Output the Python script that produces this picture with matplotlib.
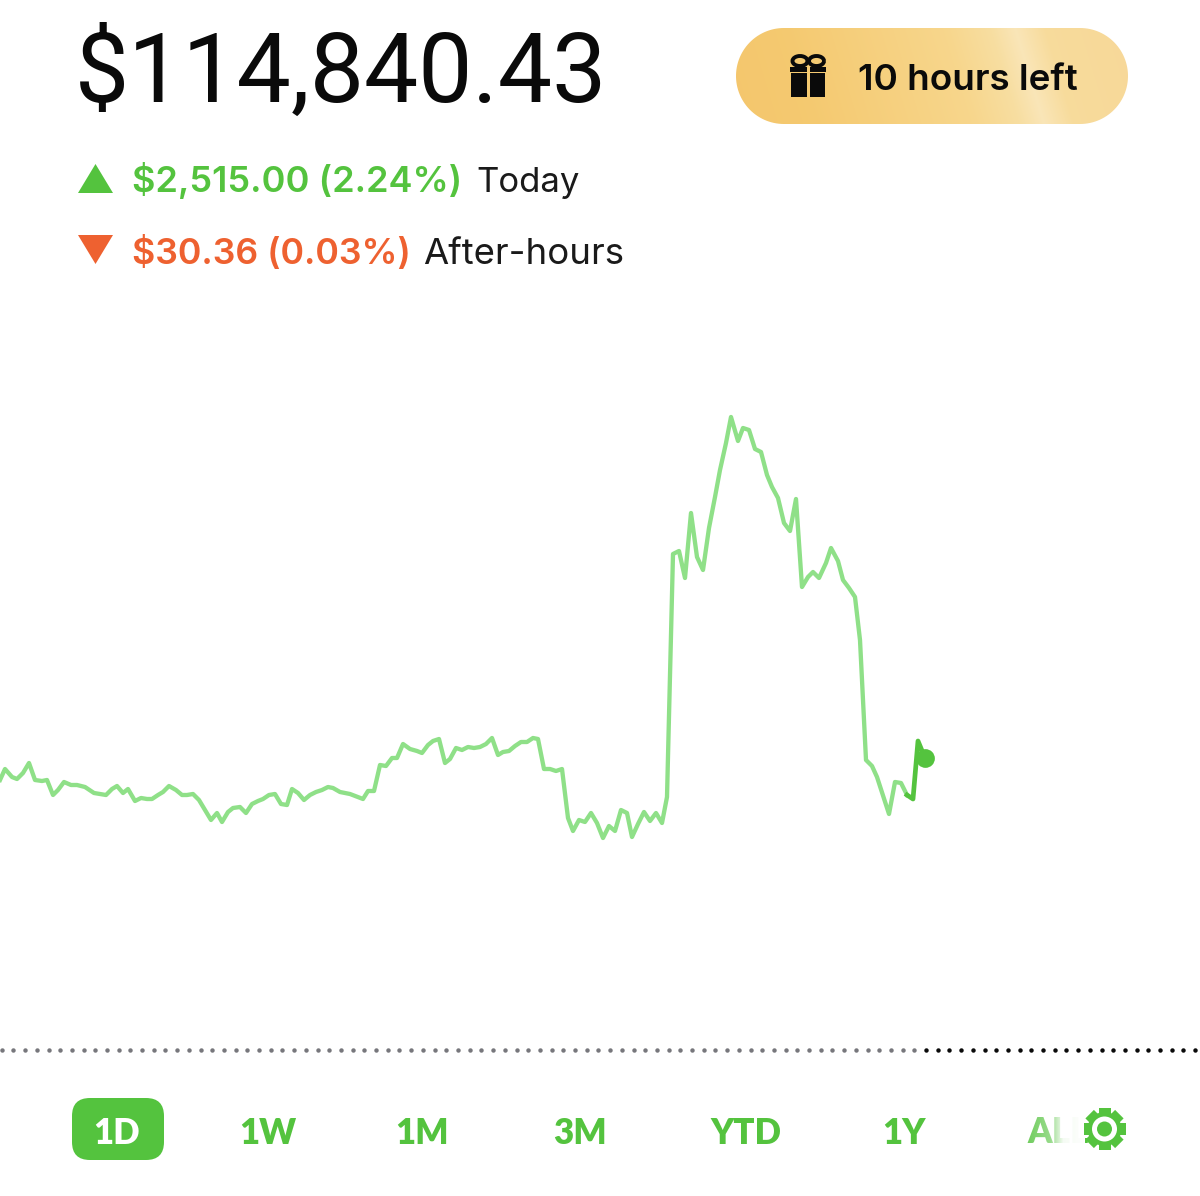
import numpy as np
import matplotlib
matplotlib.use('Agg')
import matplotlib.pyplot as plt
from matplotlib.patches import Circle, FancyBboxPatch, Polygon, Rectangle, Arc

GREEN = '#54C33E'
LIGHT = '#8FE088'
RED = '#EE6130'

# line
chart_x = [0, 5, 12, 17, 23, 29, 35, 42, 47, 53, 58, 64, 71, 77, 85, 94, 100, 106, 112, 117,
           123, 128, 135, 141, 147, 152, 158, 163, 169, 176, 182, 187, 193, 199, 211, 217, 222, 228, 233, 240,
           246, 252, 258, 263, 269, 275, 281, 287, 292, 298, 304, 310, 316, 322, 328, 333, 340, 350, 363, 368,
           374, 380, 386, 392, 397, 403, 410, 417, 422, 428, 433, 439, 445, 450, 456, 462, 468, 474, 480, 486,
           492, 498, 503, 509, 515, 521, 527, 533, 538, 544, 550, 556, 562, 568, 573, 579, 585, 591, 597, 603,
           609, 615, 621, 627, 632, 638, 644, 650, 656, 662, 667, 673, 679, 685, 691, 697, 703, 709, 715, 720,
           726, 731, 738, 743, 749, 755, 761, 767, 772, 778, 784, 790, 796, 802, 808, 813, 819, 826, 831, 838,
           843, 849, 855, 860, 866, 872, 877, 889, 895, 901, 907]
chart_y = [780, 769, 777, 779, 773, 763, 780, 781, 780, 795, 790, 782, 785, 785, 787, 793, 794, 795, 789, 786,
           793, 789, 801, 798, 799, 799, 795, 792, 786, 790, 795, 795, 794, 800, 820, 813, 822, 812, 808, 807,
           813, 804, 801, 799, 795, 794, 804, 805, 789, 793, 800, 795, 792, 790, 787, 788, 792, 794, 799, 791,
           791, 765, 766, 758, 758, 744, 749, 751, 753, 745, 741, 739, 763, 759, 748, 750, 747, 748, 747, 744,
           738, 755, 752, 751, 746, 742, 742, 738, 739, 769, 769, 771, 769, 818, 831, 820, 822, 813, 823, 838,
           826, 831, 810, 813, 837, 824, 812, 821, 813, 823, 797, 554, 551, 578, 513, 557, 570, 528, 497, 470,
           443, 417, 441, 428, 430, 449, 452, 475, 487, 498, 523, 531, 499, 587, 577, 572, 578, 563, 548, 561,
           580, 588, 597, 640, 760, 766, 777, 814, 782, 783, 795]
afterhours_x = [907, 913, 918, 925]
afterhours_y = [795, 799, 741, 758]
last_x = [925]
last_y = [758]

ranges = ['1W', '1M', '3M', 'YTD', '1Y']
range_x = [268, 422, 580, 746, 904]

fig = plt.figure(figsize=(12, 11.96), dpi=100)
ax = fig.add_axes([0, 0, 1, 1])
ax.set_xlim(0, 1200)
ax.set_ylim(1196, 0)
ax.axis('off')

# header
ax.text(75, 102, '$114,840.43', family='Roboto', fontsize=69.5, color='#0a0a0a', va='baseline')
ax.add_patch(Polygon([(78, 193), (113, 193), (95.5, 164)], color=GREEN, lw=0))
ax.add_patch(Polygon([(78, 235), (113, 235), (95.5, 264)], color=RED, lw=0))
ax.text(132.5, 192, '$2,515.00 (2.24%)', family='Inter', fontweight='semibold', fontsize=26, color=GREEN, va='baseline')
ax.text(476, 192, 'Today', family='Inter', fontsize=25, color='#1a1a1a', va='baseline')
ax.text(132.5, 264, '$30.36 (0.03%)', family='Inter', fontweight='semibold', fontsize=25.8, color=RED, va='baseline')
ax.text(423, 264, 'After-hours', family='Inter', fontsize=26.3, color='#1a1a1a', va='baseline')

# gold pill with slanted highlight
xx, yy = np.meshgrid(np.linspace(736, 1128, 392), np.linspace(28, 124, 96))
pos = xx - (yy - 76) * 0.3
stops = [736, 800, 960, 1005, 1030, 1060, 1128]
reds = [0.96, 0.96, 0.97, 0.97, 0.98, 0.97, 0.97]
greens = [0.78, 0.79, 0.84, 0.87, 0.90, 0.86, 0.85]
blues = [0.43, 0.44, 0.55, 0.63, 0.72, 0.61, 0.60]
img = np.dstack([np.interp(pos, stops, reds), np.interp(pos, stops, greens), np.interp(pos, stops, blues)])
t = np.linspace(-np.pi / 2, np.pi / 2, 60)
outline = np.vstack([np.column_stack([1080 + 48 * np.cos(t), 76 + 48 * np.sin(t)]),
                     np.column_stack([784 - 48 * np.cos(t), 76 - 48 * np.sin(t)])])
pill = Polygon(outline, fc='none', ec='none')
ax.add_patch(pill)
im = ax.imshow(img, extent=(736, 1128, 124, 28), aspect='auto', zorder=1)
im.set_clip_path(pill)
ax.set_xlim(0, 1200)
ax.set_ylim(1196, 0)
ax.text(858, 90, '10 hours left', family='Inter', fontweight='semibold', fontsize=26.5, color='#0a0a0a', va='baseline', zorder=3)

# gift icon
ax.add_patch(Rectangle((791, 73), 16, 24, color='#0a0a0a', lw=0, zorder=3))
ax.add_patch(Rectangle((810, 73), 15, 24, color='#0a0a0a', lw=0, zorder=3))
ax.add_patch(Rectangle((790, 66.5), 17, 5, color='#0a0a0a', lw=0, zorder=3))
ax.add_patch(Rectangle((810, 66.5), 16, 5, color='#0a0a0a', lw=0, zorder=3))
for bow_x in [800, 816.5]:
    ax.add_patch(Arc((bow_x, 61), 15, 10, lw=2.8, color='#0a0a0a', zorder=3))

# price line
ax.plot(chart_x, chart_y, color=LIGHT, lw=3.1, solid_joinstyle='round', zorder=2)
ax.plot(afterhours_x, afterhours_y, color=GREEN, lw=3.4, solid_joinstyle='round', zorder=2)
ax.plot(last_x, last_y, 'o', color=GREEN, ms=13.5, mew=0, zorder=3)

# previous close dots
dots = np.arange(1.7, 1200, 11.7)
ax.plot(dots[dots < 920], [1050] * len(dots[dots < 920]), 'o', color='#77777c', ms=3.2, mew=0)
ax.plot(dots[dots >= 920], [1050] * len(dots[dots >= 920]), 'o', color='#0a0a0a', ms=3.2, mew=0)

# range buttons
ax.add_patch(FancyBboxPatch((90, 1116), 56, 26, boxstyle='round,pad=18,rounding_size=18', fc=GREEN, ec='none'))
ax.text(117, 1130, '1D', family='Lato', fontweight='heavy', fontsize=25, color='white', ha='center', va='center_baseline')
for label, x in zip(ranges, range_x):
    ax.text(x, 1130, label, family='Lato', fontweight='heavy', fontsize=25, color=GREEN, ha='center', va='center_baseline')

# ALL fades out under the gear
ax.text(1027, 1143, 'ALL', family='Lato', fontweight='heavy', fontsize=25, color=GREEN, va='baseline')
fade = np.ones((1, 60, 4))
fade[..., 3] = np.interp(np.arange(60), [0, 25, 38, 59], [0.15, 0.4, 0.95, 1])
ax.imshow(fade, extent=(1025, 1085, 1150, 1110), aspect='auto', zorder=4)
ax.set_xlim(0, 1200)
ax.set_ylim(1196, 0)

# gear
gear_x, gear_y = 1104.5, 1129
for angle in np.arange(0, 180, 45):
    a = np.deg2rad(angle)
    ux, uy = np.cos(a), np.sin(a)
    vx, vy = -uy, ux
    corners = [(gear_x + p * 21 * ux + q * 6 * vx, gear_y + p * 21 * uy + q * 6 * vy)
               for p, q in [(-1, -1), (1, -1), (1, 1), (-1, 1)]]
    ax.add_patch(Polygon(corners, color=GREEN, lw=0, zorder=5))
ax.add_patch(Circle((gear_x, gear_y), 17, color=GREEN, lw=0, zorder=5))
ax.add_patch(Circle((gear_x, gear_y), 12.5, color='white', lw=0, zorder=6))
ax.add_patch(Circle((gear_x, gear_y), 7.5, color=GREEN, lw=0, zorder=7))

fig.savefig('out.png', dpi=100)
